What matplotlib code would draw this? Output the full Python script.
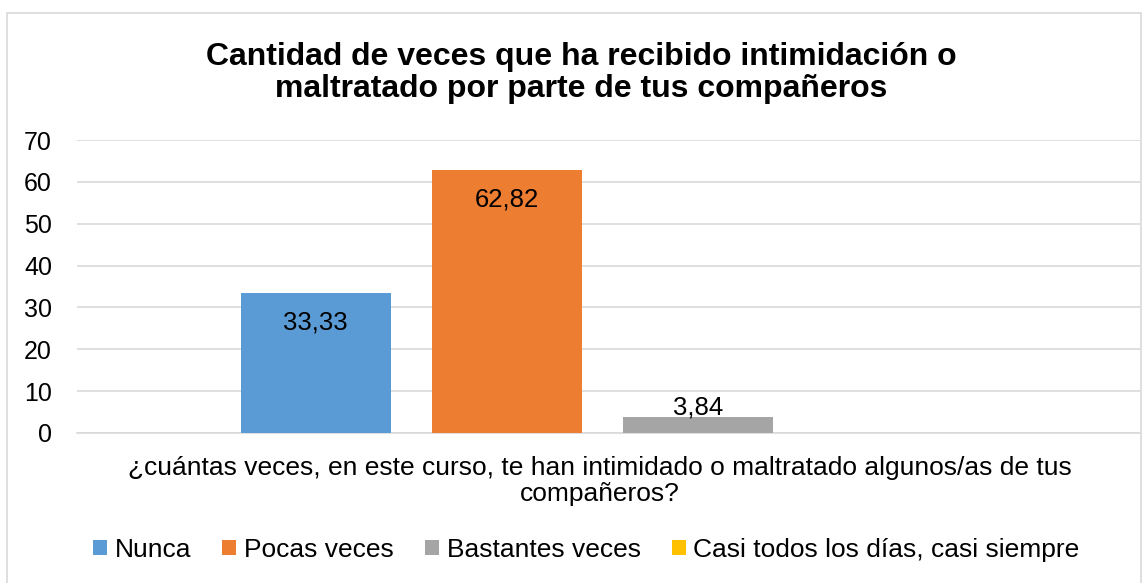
import matplotlib.pyplot as plt
from matplotlib.patches import Rectangle

# --------- data ---------
series = ['Nunca', 'Pocas veces', 'Bastantes veces', 'Casi todos los días, casi siempre']
values = [33.33, 62.82, 3.84, 0]
colors = ['#5B9BD5', '#ED7D31', '#A5A5A5', '#FFC000']
category = '¿cuántas veces, en este curso, te han intimidado o maltratado algunos/as de tus\ncompañeros?'
title = 'Cantidad de veces que ha recibido intimidación o\nmaltratado por parte de tus compañeros'

plt.rcParams['font.family'] = ['Liberation Sans', 'DejaVu Sans']

fig = plt.figure(figsize=(11.43, 5.83), dpi=100)
W, H = 1143, 583

# outer chart border
fig.patches.append(Rectangle((7 / W, -0.05), 1134 / W, 1 - 13 / H + 0.05,
                             transform=fig.transFigure, fill=False,
                             edgecolor='#D9D9D9', lw=1.2))

ax = fig.add_axes([77 / W, 1 - 433 / H, 1063 / W, (433 - 140) / H])

step = 0.1797
width = 0.141
for i, (name, v, c) in enumerate(zip(series, values, colors)):
    x = (i - 1.5) * step - 0.006
    ax.bar(x, v, width=width, color=c, label=name, zorder=3)
    if v > 10:
        ax.annotate(f'{v:.2f}'.replace('.', ','), (x, v), xytext=(0, -21),
                    textcoords='offset points', ha='center', va='center', fontsize=18.5)
    elif v > 0:
        ax.annotate(f'{v:.2f}'.replace('.', ','), (x, v), xytext=(0, -2),
                    textcoords='offset points', ha='center', va='bottom', fontsize=18.5)

ax.set_xlim(-0.5, 0.5)
ax.set_ylim(0, 70)
ax.set_yticks(range(0, 71, 10))
ax.set_xticks([-0.008])
ax.set_xticklabels([category], fontsize=19, linespacing=1.12)
ax.tick_params(axis='x', length=0, pad=16.5)
ax.tick_params(axis='y', length=0, pad=18, labelsize=18)
ax.grid(axis='y', color='#D9D9D9', lw=1.2, zorder=0)
for s in ['top', 'right', 'left']:
    ax.spines[s].set_visible(False)
ax.spines['bottom'].set_color('#D9D9D9')
ax.spines['bottom'].set_linewidth(1.2)

fig.text(0.5 + 0.0085, 1 - 73 / H, title, ha='center', va='center',
         fontsize=23, fontweight='bold', linespacing=1.12)

fig.legend(loc='center', bbox_to_anchor=(0.513, 1 - 550 / H), ncol=4, frameon=False,
           fontsize=19, handlelength=0.53, handleheight=0.53, handletextpad=0.3,
           columnspacing=1.17)

plt.savefig('out.png', dpi=100)
